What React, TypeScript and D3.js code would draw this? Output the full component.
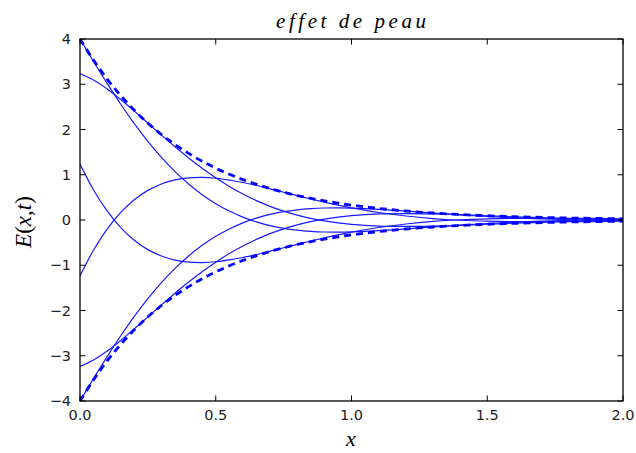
import React from "react";
import * as d3 from "d3";

// x positions of the sampled points
const xs = [0, 0.05, 0.1, 0.15, 0.2, 0.25, 0.3, 0.35, 0.4, 0.45, 0.5, 0.55, 0.6, 0.65, 0.7, 0.75, 0.8, 0.85, 0.9, 0.95, 1.0, 1.1, 1.2, 1.3, 1.4, 1.5, 1.6, 1.7, 1.8, 1.9, 2.0];

// dashed envelopes
const envUpper = [4.0, 3.53, 3.115, 2.749, 2.426, 2.141, 1.889, 1.668, 1.472, 1.299, 1.146, 1.011, 0.893, 0.788, 0.695, 0.613, 0.541, 0.478, 0.422, 0.372, 0.328, 0.256, 0.199, 0.155, 0.121, 0.094, 0.073, 0.057, 0.044, 0.035, 0.027];
const envLower = [-4.0, -3.53, -3.115, -2.749, -2.426, -2.141, -1.889, -1.668, -1.472, -1.299, -1.146, -1.011, -0.893, -0.788, -0.695, -0.613, -0.541, -0.478, -0.422, -0.372, -0.328, -0.256, -0.199, -0.155, -0.121, -0.094, -0.073, -0.057, -0.044, -0.035, -0.027];

// solid curves E(x,t) at six instants
const curveA = [4.0, 3.502, 3.018, 2.558, 2.129, 1.736, 1.382, 1.069, 0.795, 0.56, 0.361, 0.197, 0.063, -0.043, -0.124, -0.184, -0.225, -0.251, -0.265, -0.268, -0.263, -0.237, -0.197, -0.154, -0.113, -0.077, -0.048, -0.025, -0.009, 0.001, 0.008];
const curveB = [3.236, 3.092, 2.895, 2.661, 2.406, 2.141, 1.875, 1.617, 1.371, 1.142, 0.932, 0.742, 0.575, 0.428, 0.302, 0.195, 0.107, 0.035, -0.021, -0.065, -0.097, -0.134, -0.143, -0.135, -0.117, -0.094, -0.071, -0.051, -0.033, -0.02, -0.009];
const curveC = [-1.236, -0.664, -0.2, 0.167, 0.448, 0.655, 0.797, 0.887, 0.932, 0.942, 0.923, 0.882, 0.828, 0.762, 0.689, 0.613, 0.537, 0.464, 0.394, 0.328, 0.268, 0.166, 0.088, 0.032, -0.005, -0.027, -0.038, -0.041, -0.038, -0.034, -0.027];
const curveD = [-4.0, -3.502, -3.018, -2.558, -2.129, -1.736, -1.382, -1.069, -0.795, -0.56, -0.361, -0.197, -0.063, 0.043, 0.124, 0.184, 0.225, 0.251, 0.265, 0.268, 0.263, 0.237, 0.197, 0.154, 0.113, 0.077, 0.048, 0.025, 0.009, -0.001, -0.008];
const curveE = [-3.236, -3.092, -2.895, -2.661, -2.406, -2.141, -1.875, -1.617, -1.371, -1.142, -0.932, -0.742, -0.575, -0.428, -0.302, -0.195, -0.107, -0.035, 0.021, 0.065, 0.097, 0.134, 0.143, 0.135, 0.117, 0.094, 0.071, 0.051, 0.033, 0.02, 0.009];
const curveF = [1.236, 0.664, 0.2, -0.167, -0.448, -0.655, -0.797, -0.887, -0.932, -0.942, -0.923, -0.882, -0.828, -0.762, -0.689, -0.613, -0.537, -0.464, -0.394, -0.328, -0.268, -0.166, -0.088, -0.032, 0.005, 0.027, 0.038, 0.041, 0.038, 0.034, 0.027];

const xTicks = [0, 0.5, 1.0, 1.5, 2.0];
const xTickLabels = ["0.0", "0.5", "1.0", "1.5", "2.0"];
const yTicks = [-4, -3, -2, -1, 0, 1, 2, 3, 4];
const yTickLabels = ["\u22124", "\u22123", "\u22122", "\u22121", "0", "1", "2", "3", "4"];

const W = 636;
const H = 453;
const left = 80;
const right = 623;
const top = 39;
const bottom = 401;

export default function App() {
  const x = d3.scaleLinear().domain([0, 2]).range([left, right]);
  const y = d3.scaleLinear().domain([-4, 4]).range([bottom, top]);
  const line = d3
    .line<number>()
    .x((_, i) => x(xs[i]))
    .y((d) => y(d))
    .curve(d3.curveCatmullRom.alpha(0.5));

  const solids = [curveA, curveB, curveC, curveD, curveE, curveF];
  const dashed = [envUpper, envLower];
  const tickLen = 5.5;
  const tickFont = "'DejaVu Sans', sans-serif";
  const mathFont = "'Liberation Serif', 'DejaVu Serif', serif";

  return (
    <svg width={W} height={H} style={{ position: "absolute", left: 0, top: 0, background: "#fff" }}>
      <defs>
        <clipPath id="plotclip">
          <rect x={left} y={top} width={right - left} height={bottom - top} />
        </clipPath>
      </defs>
      <rect x={0} y={0} width={W} height={H} fill="#fff" />
      <g clipPath="url(#plotclip)">
        {solids.map((s, i) => (
          <path key={"s" + i} d={line(s) || ""} fill="none" stroke="#1a1aff" strokeWidth={1.2} />
        ))}
        {dashed.map((s, i) => (
          <path key={"d" + i} d={line(s) || ""} fill="none" stroke="#0000ff" strokeWidth={2.8} strokeDasharray="7,5" />
        ))}
      </g>
      {/* frame */}
      <rect x={left} y={top} width={right - left} height={bottom - top} fill="none" stroke="#000" strokeWidth={1.3} />
      {/* x ticks */}
      {xTicks.map((t, i) => (
        <g key={"xt" + i}>
          <line x1={x(t)} x2={x(t)} y1={bottom} y2={bottom - tickLen} stroke="#000" strokeWidth={1} />
          <line x1={x(t)} x2={x(t)} y1={top} y2={top + tickLen} stroke="#000" strokeWidth={1} />
          <text x={x(t)} y={420} textAnchor="middle" fontFamily={tickFont} fontSize={14.5} fill="#222">
            {xTickLabels[i]}
          </text>
        </g>
      ))}
      {/* y ticks */}
      {yTicks.map((t, i) => (
        <g key={"yt" + i}>
          <line x1={left} x2={left + tickLen} y1={y(t)} y2={y(t)} stroke="#000" strokeWidth={1} />
          <line x1={right} x2={right - tickLen} y1={y(t)} y2={y(t)} stroke="#000" strokeWidth={1} />
          <text x={71} y={y(t) + 5} textAnchor="end" fontFamily={tickFont} fontSize={14.5} fill="#222">
            {yTickLabels[i]}
          </text>
        </g>
      ))}
      {/* title */}
      <text x={351} y={28} textAnchor="middle" fontFamily={mathFont} fontStyle="italic" fontSize={21} fill="#000" textLength={150} lengthAdjust="spacing">
        effet de peau
      </text>
      {/* x label */}
      <text x={351} y={446} textAnchor="middle" fontFamily={mathFont} fontStyle="italic" fontSize={22} fill="#000">
        x
      </text>
      {/* y label */}
      <text transform="translate(31,222) rotate(-90)" textAnchor="middle" fontFamily={mathFont} fontSize={23} fill="#000">
        <tspan fontStyle="italic">E</tspan>
        <tspan>(</tspan>
        <tspan fontStyle="italic">x</tspan>
        <tspan>,</tspan>
        <tspan fontStyle="italic">t</tspan>
        <tspan>)</tspan>
      </text>
    </svg>
  );
}
